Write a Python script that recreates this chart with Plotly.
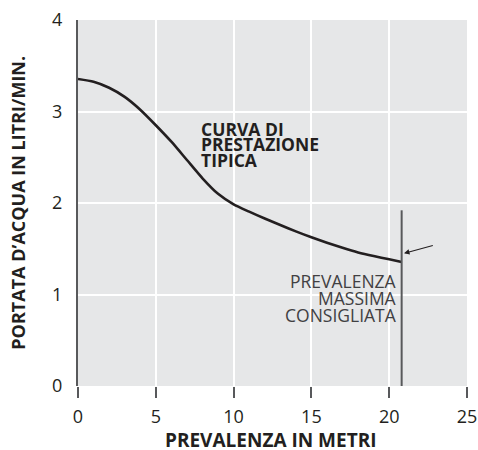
import plotly.graph_objects as go

# Data
head_m = [0, 1, 2, 3, 4, 5, 6, 7, 8, 9, 10, 11, 12, 13, 14, 15, 16, 17, 18, 19, 20, 20.8]
flow_lpm = [3.355, 3.325, 3.26, 3.16, 3.02, 2.85, 2.67, 2.47, 2.27, 2.10, 1.985, 1.905, 1.83,
            1.76, 1.69, 1.625, 1.565, 1.51, 1.46, 1.42, 1.385, 1.355]
max_head = 20.8
max_line_top = 1.92
x_ticks = [0, 5, 10, 15, 20, 25]
y_ticks = [0, 1, 2, 3, 4]
curve_label = ["CURVA DI", "PRESTAZIONE", "TIPICA"]
max_label = ["PREVALENZA", "MASSIMA", "CONSIGLIATA"]

FONT = "Open Sans"
TXT = "#231f20"
GRAY = "#58595b"

fig = go.Figure()
fig.add_trace(go.Scatter(x=head_m, y=flow_lpm, mode="lines",
                         line=dict(color=TXT, width=2.6, shape="spline", smoothing=0.6),
                         hoverinfo="skip", showlegend=False))
fig.add_trace(go.Scatter(x=[max_head, max_head], y=[0, max_line_top], mode="lines",
                         line=dict(color=GRAY, width=2),
                         hoverinfo="skip", showlegend=False))

fig.add_annotation(x=20.95, y=1.45, ax=22.9, ay=1.54, xref="x", yref="y", axref="x", ayref="y",
                   text="", showarrow=True, arrowhead=2, arrowsize=1.0, arrowwidth=1.1,
                   arrowcolor=TXT)

for t, y in zip(curve_label, [2.81, 2.64, 2.465]):
    fig.add_annotation(x=7.75, y=y, xref="x", yref="y", xanchor="left", yanchor="middle",
                       text="<b>%s</b>" % t, showarrow=False,
                       font=dict(family=FONT, size=17.5, color=TXT))
for t, y in zip(max_label, [1.148, 0.962, 0.776]):
    fig.add_annotation(x=20.6, y=y, xref="x", yref="y", xanchor="right", yanchor="middle",
                       text=t, showarrow=False,
                       font=dict(family=FONT, size=17.5, color="#414042"))

fig.add_annotation(x=0.497, y=-0.148, xref="paper", yref="paper", xanchor="center", yanchor="middle",
                   text="<b>PREVALENZA IN METRI</b>", showarrow=False,
                   font=dict(family=FONT, size=19, color=TXT))
fig.add_annotation(x=-0.155, y=0.5, xref="paper", yref="paper", xanchor="center", yanchor="middle",
                   text="<b>PORTATA D’ACQUA IN LITRI/MIN.</b>", showarrow=False, textangle=-90,
                   font=dict(family=FONT, size=18, color=TXT))

fig.update_layout(
    width=478, height=450,
    margin=dict(l=78, r=11, t=20, b=64),
    paper_bgcolor="white", plot_bgcolor="#e6e7e8",
    font=dict(family=FONT, color=TXT),
    showlegend=False,
)
fig.update_xaxes(range=[0, 25], tickvals=x_ticks, ticks="outside", ticklen=11, tickwidth=1.5,
                 tickcolor=GRAY, showline=False, gridcolor="white", gridwidth=1.5,
                 zeroline=False, automargin=False, ticklabeloverflow="allow", ticklabelstandoff=3,
                 tickfont=dict(size=18, family=FONT, color=TXT))
fig.update_yaxes(range=[0, 4], tickvals=y_ticks, ticks="", showline=True, linecolor=GRAY,
                 linewidth=2, gridcolor="white", gridwidth=1.5, zeroline=False, automargin=False,
                 ticklabeloverflow="allow",
                 tickfont=dict(size=18, family=FONT, color=TXT), ticklabelstandoff=10)

# remove the default page margin so the 478x450 figure fills the window
fig.write_html("out.html", config={"displayModeBar": False},
               post_script="document.body.style.margin='0';document.body.style.overflow='hidden';")
